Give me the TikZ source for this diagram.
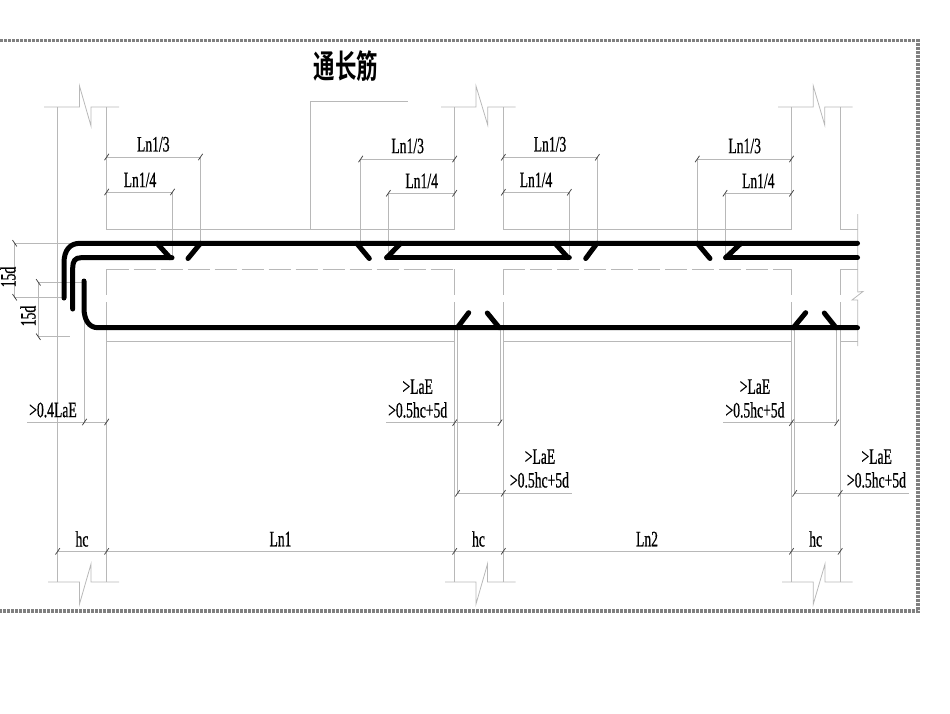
\documentclass[tikz,border=0pt]{standalone}
\usepackage{fontspec}
\newfontfamily\labfont[FakeStretch=0.62,FakeBold=0.6]{Liberation Serif}
\newfontfamily\cjkfont[FakeStretch=0.66]{Noto Sans CJK SC Bold}
\tikzset{
 thin line/.style={draw=black!28,line width=0.8pt},
 rebar/.style={draw=black,line width=5pt,line cap=round,line join=round},
 lab/.style={inner sep=0pt,font=\labfont\fontsize{22}{22}\selectfont,text=black},
 frame line/.style={draw=black!50,line width=3.2pt,dash pattern=on 3pt off 1pt},
 tick/.style={draw=black!75,line width=0.75pt}
}
\newcommand{\tk}[2]{\draw[tick] (#1-2.2,#2+3.2) -- (#1+2.2,#2-3.2);}
\begin{document}
\begin{tikzpicture}[x=1pt,y=-1pt]
\useasboundingbox (0,0) rectangle (950,713);
% frame
\draw[frame line] (0,40.5) -- (918,40.5) -- (918,611) -- (0,611);
% breaks top
\draw[thin line] (44,107) -- (79.5,107) -- (79.5,86) -- (91,126) -- (91,107) -- (119,107);
\draw[thin line] (441,107) -- (476,107) -- (476,86) -- (487.7,125) -- (487.7,107) -- (515.7,107);
\draw[thin line] (778,107) -- (813.3,107) -- (813.3,86) -- (824.7,125) -- (824.7,107) -- (852.7,107);
% breaks bottom
\draw[thin line] (48,582) -- (79.5,582) -- (79.5,604) -- (91,564) -- (91,582) -- (119,582);
\draw[thin line] (445,582) -- (476,582) -- (476,604) -- (487.5,564) -- (487.5,582) -- (515.7,582);
\draw[thin line] (782,582) -- (813.3,582) -- (813.3,604) -- (825,564) -- (825,582) -- (852.7,582);
% columns upper
\draw[thin line] (57.7,107) -- (57.7,582);
\draw[thin line] (106.7,107) -- (106.7,229) -- (454.7,229) -- (454.7,107);
\draw[thin line] (503.3,107) -- (503.3,229) -- (791.5,229) -- (791.5,107);
\draw[thin line] (840.2,107) -- (840.2,229) -- (857.5,229);
\draw[thin line] (310.5,229) -- (310.5,101) -- (407.7,101);
% beam lower outlines
\draw[thin line,dash pattern=on 22pt off 5pt] (106.7,269.3) -- (454.7,269.3);
\draw[thin line,dash pattern=on 22pt off 5pt] (503.3,269.3) -- (791.5,269.3);
\draw[thin line] (840.2,269.3) -- (857.7,269.3);
\foreach \x in {106.7,454.7,503.3,791.5,840.2}{
  \draw[thin line] (\x,269.3) -- (\x,295);
  \draw[thin line] (\x,302) -- (\x,582);
}
\draw[thin line] (106.7,341.5) -- (454.7,341.5);
\draw[thin line] (503.3,341.5) -- (791.5,341.5);
\draw[thin line] (840.2,341.5) -- (857.7,341.5);
\draw[thin line] (857.7,214) -- (857.7,292) -- (863,291.5) -- (852,300) -- (857.7,300) -- (857.7,346);
% top dims
\draw[thin line] (106.7,157) -- (200.5,157) -- (200.5,243);
\draw[thin line] (106.7,192) -- (172.5,192) -- (172.5,258);
\draw[thin line] (454.7,159) -- (360.7,159) -- (360.7,243);
\draw[thin line] (454.7,193.3) -- (388.3,193.3) -- (388.3,258);
\draw[thin line] (503.3,157.3) -- (597.3,157.3) -- (597.3,243);
\draw[thin line] (503.3,192.3) -- (569.3,192.3) -- (569.3,258);
\draw[thin line] (791.5,159) -- (697.3,159) -- (697.3,243);
\draw[thin line] (791.5,193.3) -- (725,193.3) -- (725,258);
\tk{106.7}{157}\tk{200.5}{157}\tk{106.7}{192}\tk{172.5}{192}
\tk{454.7}{159}\tk{360.7}{159}\tk{454.7}{193.3}\tk{388.3}{193.3}
\tk{503.3}{157.3}\tk{597.3}{157.3}\tk{503.3}{192.3}\tk{569.3}{192.3}
\tk{791.5}{159}\tk{697.3}{159}\tk{791.5}{193.3}\tk{725}{193.3}
% left dims
\draw[thin line] (78,243.3) -- (14.7,243.3) -- (14.7,297.3) -- (64,297.3);
\draw[thin line] (84,282.3) -- (38.3,282.3) -- (38.3,336.7) -- (70,336.7);
\foreach \a/\b in {14.7/243.3,14.7/297.3,38.3/282.3,38.3/336.7}{
  \draw[tick] (\a-2.2,\b-3.2) -- (\a+2.2,\b+3.2);
}
\draw[thin line] (84.5,310) -- (84.5,422);
\draw[thin line] (27,422) -- (106.7,422);
\tk{84.5}{422}\tk{106.7}{422}
% LaE dims
\draw[thin line] (386,422.7) -- (500,422.7) -- (500,328);
\draw[thin line] (457.5,328) -- (457.5,493.3) -- (571.7,493.3);
\draw[thin line] (723.3,422.7) -- (836.7,422.7) -- (836.7,328);
\draw[thin line] (794.7,328) -- (794.7,493.3) -- (909,493.3);
\tk{454.7}{422.7}\tk{500}{422.7}\tk{457.5}{493.3}\tk{503.3}{493.3}
\tk{791.5}{422.7}\tk{836.7}{422.7}\tk{794.7}{493.3}\tk{840.2}{493.3}
% bottom dim
\draw[thin line] (57.7,551.3) -- (840.2,551.3);
\foreach \x in {57.7,106.7,454.7,503.3,791.5,840.2}{\tk{\x}{551.3}}
% rebar
\draw[rebar] (64,298) -- (64,263) .. controls (64,250) and (70,243.3) .. (80,243.3) -- (857.5,243.3);
\draw[rebar] (72.7,309) -- (72.7,268) .. controls (72.7,261) and (75,257.7) .. (81,257.7) -- (172,257.7);
\draw[rebar] (84,281) -- (84,308) .. controls (84,320) and (89,327.7) .. (98,327.7) -- (857.5,327.7);
\draw[rebar] (386.7,257.7) -- (569.3,257.7);
\draw[rebar] (725.7,257.7) -- (857.5,257.7);
\draw[rebar] (157,243.3) -- (170,257.7);
\draw[rebar] (200.5,243.3) -- (188,258.5);
\draw[rebar] (356.7,243.3) -- (369.3,258.5);
\draw[rebar] (400.7,243.3) -- (386.7,257.7);
\draw[rebar] (555,243.3) -- (568,257.7);
\draw[rebar] (597,243.3) -- (585.7,258.5);
\draw[rebar] (697.3,243.3) -- (710,258.5);
\draw[rebar] (741,243.3) -- (725.7,257.7);
\draw[rebar] (457.3,327.7) -- (468.7,312.7);
\draw[rebar] (487.3,313) -- (499.3,327.7);
\draw[rebar] (793.3,327.7) -- (805.7,312.7);
\draw[rebar] (824.3,313) -- (836,327.7);
% labels
\node[inner sep=0pt,font=\cjkfont\fontsize{32.5}{32.5}\selectfont] (title) at (346,66) {通长筋};
\node[lab] (a1) at (153.3,144.3) {Ln1/3};
\node[lab] (a2) at (140,180) {Ln1/4};
\node[lab] (a3) at (407.7,146) {Ln1/3};
\node[lab] (a4) at (421.7,181) {Ln1/4};
\node[lab] (a5) at (550,144.3) {Ln1/3};
\node[lab] (a6) at (536,180) {Ln1/4};
\node[lab] (a7) at (744.7,146) {Ln1/3};
\node[lab] (a8) at (758.3,181) {Ln1/4};
\node[lab,rotate=90] (d1) at (8,277) {15d};
\node[lab,rotate=90] (d2) at (28,316) {15d};
\node[lab] (e1) at (53,410) {>0.4LaE};
\node[lab] (e2) at (417.7,386.7) {>LaE};
\node[lab] (e3) at (417.7,410) {>0.5hc+5d};
\node[lab] (e4) at (540,456.7) {>LaE};
\node[lab] (e5) at (539.5,480) {>0.5hc+5d};
\node[lab] (e6) at (755,386.7) {>LaE};
\node[lab] (e7) at (755,410) {>0.5hc+5d};
\node[lab] (e8) at (876.7,456.7) {>LaE};
\node[lab] (e9) at (876.5,480) {>0.5hc+5d};
\node[lab] (b1) at (82,539) {hc};
\node[lab] (b2) at (280.5,539) {Ln1};
\node[lab] (b3) at (478.5,539) {hc};
\node[lab] (b4) at (647,539) {Ln2};
\node[lab] (b5) at (815.7,539) {hc};
\end{tikzpicture}
\end{document}
